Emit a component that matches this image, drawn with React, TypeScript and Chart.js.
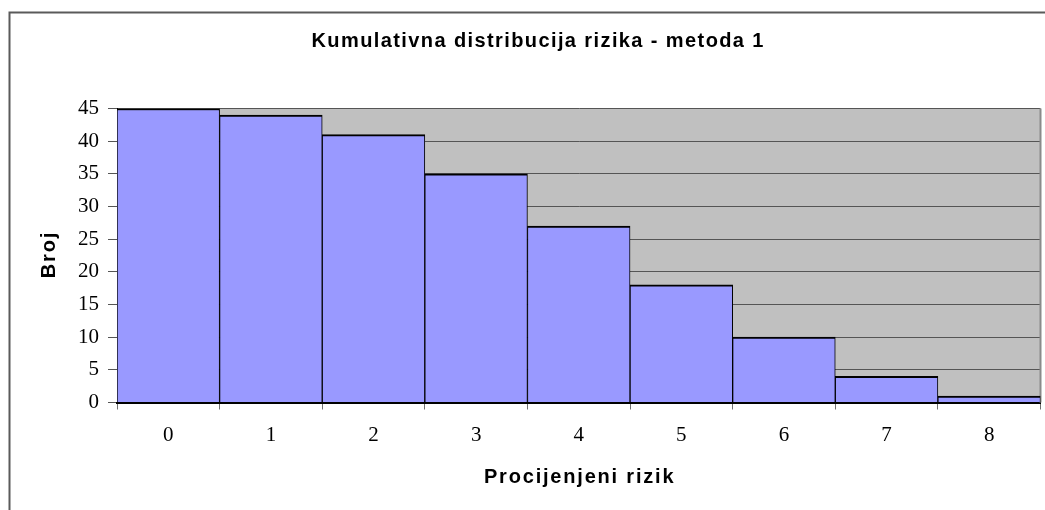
import React, { useEffect, useRef } from "react";
import { Chart, registerables } from "chart.js";

Chart.register(...registerables);

const categories = ["0", "1", "2", "3", "4", "5", "6", "7", "8"];
const counts = [45, 44, 41, 35, 27, 18, 10, 4, 1];
const yMin = 0;
const yMax = 45;
const yStep = 5;
const chartTitle = "Kumulativna distribucija rizika - metoda 1";
const xTitle = "Procijenjeni rizik";
const yTitle = "Broj";

const SANS = "'Liberation Sans', Arial, sans-serif";
const SERIF = "'Liberation Serif', 'Times New Roman', serif";

const framePlugin = {
  id: "frame",
  beforeDraw(chart: any) {
    const { ctx, chartArea: a } = chart;
    ctx.save();
    ctx.fillStyle = "#ffffff";
    ctx.fillRect(0, 0, chart.width, chart.height);
    ctx.strokeStyle = "#5a5a5a";
    ctx.lineWidth = 2;
    ctx.strokeRect(9.5, 12.5, chart.width + 50, chart.height + 50);
    ctx.fillStyle = "#c0c0c0";
    ctx.fillRect(a.left, a.top, a.right - a.left, a.bottom - a.top);
    ctx.restore();
  },
  beforeDatasetsDraw(chart: any) {
    const { ctx, chartArea: a } = chart;
    ctx.save();
    ctx.strokeStyle = "#8a8a8a";
    ctx.lineWidth = 2;
    ctx.beginPath();
    ctx.moveTo(a.right, a.top);
    ctx.lineTo(a.right, a.bottom);
    ctx.stroke();
    ctx.restore();
  },
  afterDraw(chart: any) {
    const { ctx, chartArea: a } = chart;
    const spaced = (text: string, x: number, y: number, spacing: number) => {
      ctx.letterSpacing = spacing + "px";
      const w = ctx.measureText(text).width - spacing;
      ctx.fillText(text, x - w / 2, y);
    };
    ctx.save();
    ctx.fillStyle = "#000";
    ctx.textAlign = "left";
    ctx.textBaseline = "alphabetic";
    ctx.font = "bold 20px " + SANS;
    spaced(chartTitle, chart.width / 2, 46.5, 1.4);
    spaced(xTitle, (a.left + a.right) / 2, 483, 1.8);
    ctx.translate(55, (a.top + a.bottom) / 2);
    ctx.rotate(-Math.PI / 2);
    spaced(yTitle, 0, 0, 1.8);
    ctx.restore();
    ctx.letterSpacing = "0px";
  },
};

export default function App() {
  const ref = useRef<HTMLCanvasElement | null>(null);

  useEffect(() => {
    if (!ref.current) return;
    const chart = new Chart(ref.current, {
      type: "bar",
      data: {
        labels: categories,
        datasets: [
          {
            data: counts,
            backgroundColor: "#9999ff",
            borderColor: "#000000",
            borderWidth: { top: 2, left: 1, right: 1, bottom: 0 },
            categoryPercentage: 1,
            barPercentage: 1,
          },
        ],
      },
      options: {
        animation: false,
        responsive: false,
        devicePixelRatio: 1,
        layout: { padding: { left: 20, right: 34.5, top: 108.5, bottom: 0 } },
        plugins: {
          legend: { display: false },
          tooltip: { enabled: false },
          title: { display: false },
        },
        scales: {
          x: {
            offset: true,
            grid: {
              offset: true,
              drawOnChartArea: false,
              drawTicks: true,
              tickLength: 7,
              color: "#707070",
              lineWidth: 1,
            },
            border: { display: true, color: "#000", width: 2 },
            ticks: {
              color: "#000",
              font: { family: SERIF, size: 21 },
              padding: 13,
            },
            afterFit(s: any) {
              s.height = 107.5;
            },
          },
          y: {
            min: yMin,
            max: yMax,
            ticks: {
              stepSize: yStep,
              color: "#000",
              font: { family: SERIF, size: 21 },
              padding: 9,
            },
            grid: { color: "#555555", lineWidth: 1, drawTicks: true, tickLength: 9 },
            border: { display: true, color: "#000", width: 1 },
            afterFit(s: any) {
              s.width = 97;
            },
          },
        },
      },
      plugins: [framePlugin],
    });
    return () => chart.destroy();
  }, []);

  return (
    <div
      style={{
        position: "fixed",
        left: 0,
        top: 0,
        width: 1045,
        height: 510,
        overflow: "hidden",
        background: "#fff",
      }}
    >
      <canvas ref={ref} width={1075} height={510} style={{ display: "block" }} />
    </div>
  );
}
